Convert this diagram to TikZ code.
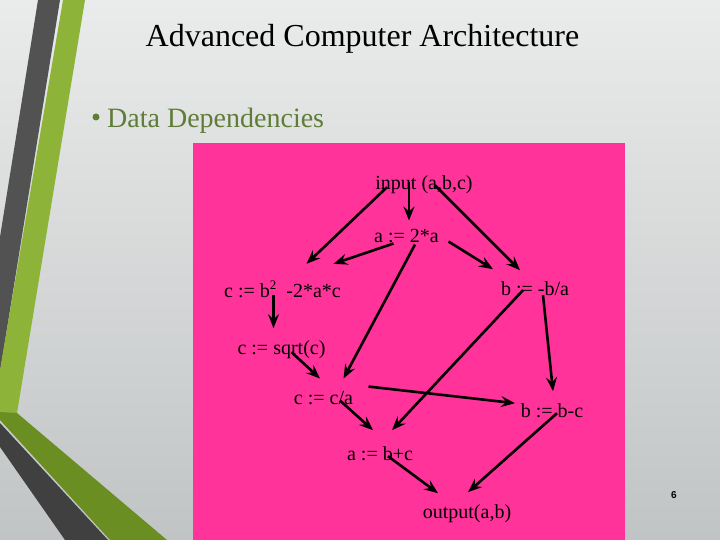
\documentclass[tikz,border=0pt]{standalone}
\usepackage{fontspec}
\setmainfont{Liberation Serif}
\newfontfamily\pagenumfont{Liberation Sans}
\usetikzlibrary{calc,arrows.meta}
\definecolor{bgtop}{RGB}{234,235,235}
\definecolor{bgbot}{RGB}{193,196,197}
\definecolor{pinkbg}{RGB}{255,51,153}
\definecolor{litegreen}{RGB}{141,180,56}
\definecolor{darkgreen}{RGB}{107,142,35}
\definecolor{bandgrey}{RGB}{82,82,82}
\definecolor{banddark}{RGB}{64,64,64}
\definecolor{subgreen}{RGB}{95,125,55}
\tikzset{
  lbl/.style={anchor=base,inner sep=0pt,font=\fontsize{20}{24}\selectfont,text=black},
  arr/.style={line width=2.6pt,draw=black,-{Stealth[length=14pt,width=11pt,inset=5pt]}}
}
\begin{document}
\begin{tikzpicture}[x=1pt,y=-1pt]
\useasboundingbox (0,0) rectangle (720,540);
% background
\shade[top color=bgtop,bottom color=bgbot] (0,0) rectangle (720,540);
% decorative bands
\fill[bandgrey] (38,0) -- (60,0) -- (0,372) -- (0,237) -- cycle;
\fill[litegreen] (63,0) -- (85,0) -- (17,413) -- (0,413) -- (0,370) -- cycle;
\fill[darkgreen] (0,412) -- (17,413) -- (167,540) -- (110,540) -- (0,420) -- cycle;
\fill[banddark] (0,423) -- (108,540) -- (65,540) -- (0,447) -- cycle;
% title
\node[anchor=base,inner sep=0pt,font=\fontsize{32}{38}\selectfont] (title) at (362.5,47) {Advanced Computer Architecture};
\fill[subgreen] (96,117) circle (3.5);
\node[anchor=base west,inner sep=0pt,font=\fontsize{28}{33}\selectfont,text=subgreen] (sub) at (107,128) {Data Dependencies};
% pink panel
\fill[pinkbg] (193,143) rectangle (625,540);
% nodes
\node[lbl] (in) at (424,190) {input (a,b,c)};
\node[lbl] (a1) at (406.5,242) {a := 2*a};
\node[lbl] (cb) at (282.5,297) {c := b\raisebox{8pt}{\fontsize{13}{13}\selectfont 2}\ \ -2*a*c};
\node[lbl] (bb) at (535,295) {b := -b/a};
\node[lbl] (cs) at (281.5,354) {c := sqrt(c)};
\node[lbl] (cc) at (323.5,404) {c := c/a};
\node[lbl] (bc) at (552,417) {b := b-c};
\node[lbl] (ab) at (380,460) {a := b+c};
\node[lbl] (out) at (467,518) {output(a,b)};
% arrows
\draw[arr] ($(in)+(-37,2)$) -- ($(cb)+(24,-25)$);
\draw[arr] ($(in)+(-15,-3)$) -- ($(a1)+(2.5,-15)$);
\draw[arr] ($(in)+(11,0)$) -- ($(bb)+(-15,-18)$);
\draw[arr] ($(a1)+(-13,8)$) -- ($(cb)+(51,-25)$);
\draw[arr] ($(a1)+(42,6)$) -- ($(bb)+(-42,-19)$);
\draw[arr] ($(a1)+(8.5,9)$) -- ($(cc)+(20,-19)$);
\draw[arr] ($(bb)+(-12,2)$) -- ($(ab)+(12,-23)$);
\draw[arr] ($(bb)+(8,7)$) -- ($(bc)+(1,-19)$);
\draw[arr] ($(cb)+(-9,6)$) -- ($(cs)+(-8,-21)$);
\draw[arr] ($(cs)+(10,3)$) -- ($(cc)+(-3.5,-19)$);
\draw[arr] ($(cc)+(45,-11)$) -- ($(bc)+(-37,-7)$);
\draw[arr] ($(cc)+(16.5,3)$) -- ($(ab)+(-7,-23)$);
\draw[arr] ($(ab)+(8,3)$) -- ($(out)+(-29,-20)$);
\draw[arr] ($(bc)+(5,3)$) -- ($(out)+(1,-21)$);
% page number
\node[inner sep=0pt,font=\pagenumfont\bfseries\fontsize{10}{12}\selectfont] (pg) at (674,495) {6};
\end{tikzpicture}
\end{document}
